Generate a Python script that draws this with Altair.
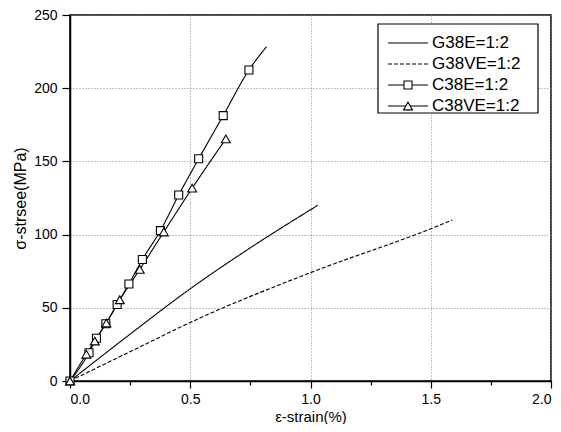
import altair as alt
import pandas as pd

# ---------------- data ----------------
series_names = ["G38E=1:2", "G38VE=1:2", "C38E=1:2", "C38VE=1:2"]

g38e_x = [0, 0.25, 0.5, 0.75, 1.03]
g38e_y = [0, 32, 63, 91, 120]

g38ve_x = [0, 0.25, 0.54, 1.0, 1.5, 1.59]
g38ve_y = [0, 20, 43, 74, 104, 110]

c38e_x = [0, 0.079, 0.11, 0.149, 0.196, 0.245, 0.301, 0.376, 0.452, 0.535, 0.637, 0.744, 0.817]
c38e_y = [0, 19.3, 29.2, 39.1, 52.3, 66.3, 83, 102.7, 127, 151.8, 181.3, 212.4, 228.3]
c38e_marker_count = 12  # last line point carries no marker

c38ve_x = [0, 0.068, 0.103, 0.151, 0.207, 0.29, 0.39, 0.508, 0.648]
c38ve_y = [0, 18.3, 27.3, 39.6, 55.5, 76.2, 101.8, 131.7, 165.4]

x_ticks = [0, 0.25, 0.5, 0.75, 1.0, 1.25, 1.5, 1.75, 2.0]
y_ticks = [0, 25, 50, 75, 100, 125, 150, 175, 200, 225, 250]

x_title = "ε-strain(%)"
y_title = "σ-strsee(MPa)"

# ---------------- tables ----------------
rows = []
for name, xs, ys in [
    (series_names[0], g38e_x, g38e_y),
    (series_names[1], g38ve_x, g38ve_y),
    (series_names[2], c38e_x, c38e_y),
    (series_names[3], c38ve_x, c38ve_y),
]:
    for i, (a, b) in enumerate(zip(xs, ys)):
        rows.append({"series": name, "x": a, "y": b, "order": i})
lines_df = pd.DataFrame(rows)

mrows = []
for a, b in zip(c38e_x[:c38e_marker_count], c38e_y[:c38e_marker_count]):
    mrows.append({"series": series_names[2], "x": a, "y": b})
for a, b in zip(c38ve_x, c38ve_y):
    mrows.append({"series": series_names[3], "x": a, "y": b})
marks_df = pd.DataFrame(mrows)

FONT = "Liberation Sans"
W, H = 481, 366

xscale = alt.Scale(domain=[0, 2.0], nice=False, zero=False)
yscale = alt.Scale(domain=[0, 250], nice=False, zero=False)

minor_x = "datum.value % 0.5 != 0"
minor_y = "datum.value % 50 != 0"

xaxis = alt.Axis(
    values=x_ticks, title=x_title,
    labelExpr="datum.value % 0.5 == 0 ? format(datum.value, '.1f') : ''",
    tickSize={"condition": {"test": minor_x, "value": 4}, "value": 7},
    gridOpacity={"condition": {"test": minor_x, "value": 0}, "value": 1},
    labelFontSize=14, titleFontSize=15, titlePadding=3, labelPadding=4,
)
yaxis = alt.Axis(
    values=y_ticks, title=y_title,
    labelExpr="datum.value % 50 == 0 ? format(datum.value, 'd') : ''",
    tickSize={"condition": {"test": minor_y, "value": 4}, "value": 8},
    gridOpacity={"condition": {"test": minor_y, "value": 0}, "value": 1},
    labelFontSize=14, titleFontSize=16, titlePadding=5, labelPadding=5,
)

dash_scale = alt.Scale(domain=series_names, range=[[1, 0], [4, 2], [1, 0], [1, 0]])

lines = alt.Chart(lines_df).mark_line(color="black", strokeWidth=1.1, interpolate="monotone").encode(
    x=alt.X("x:Q", scale=xscale, axis=xaxis),
    y=alt.Y("y:Q", scale=yscale, axis=yaxis),
    strokeDash=alt.StrokeDash("series:N", scale=dash_scale, legend=None),
    detail="series:N",
    order="order:Q",
)

shape_scale = alt.Scale(domain=series_names[2:], range=["square", "triangle-up"])
size_scale = alt.Scale(domain=series_names[2:], range=[64, 80])
points = alt.Chart(marks_df).mark_point(
    filled=True, fill="white", stroke="black", strokeWidth=1.1, opacity=1
).encode(
    x=alt.X("x:Q", scale=xscale),
    y=alt.Y("y:Q", scale=yscale),
    shape=alt.Shape("series:N", scale=shape_scale, legend=None),
    size=alt.Size("series:N", scale=size_scale, legend=None),
)

# ---------------- manual legend (plot-pixel coordinates) ----------------
one = pd.DataFrame({"k": [0]})
LX0, LX1, LY0, LY1 = 308, 468, 9, 98
SEG0, SEG1, TXT = 318, 358, 362
ROWY = [28, 49, 70, 91]

legend_layers = [
    alt.Chart(one).mark_rect(fill="white", stroke="black", strokeWidth=1.2).encode(
        x=alt.value(LX0), x2=alt.value(LX1), y=alt.value(LY0), y2=alt.value(LY1)
    )
]
dashes = [[1, 0], [4, 2], [1, 0], [1, 0]]
for i, name in enumerate(series_names):
    legend_layers.append(
        alt.Chart(one).mark_rule(color="black", strokeWidth=1.1, strokeDash=dashes[i]).encode(
            x=alt.value(SEG0), x2=alt.value(SEG1), y=alt.value(ROWY[i])
        )
    )
    legend_layers.append(
        alt.Chart(one).mark_text(align="left", baseline="middle", font=FONT, fontSize=17, color="black").encode(
            x=alt.value(TXT), y=alt.value(ROWY[i]), text=alt.value(name)
        )
    )
for i, shp, sz in [(2, "square", 64), (3, "triangle-up", 80)]:
    legend_layers.append(
        alt.Chart(one).mark_point(filled=True, fill="white", stroke="black", strokeWidth=1.1, opacity=1, shape=shp, size=sz).encode(
            x=alt.value((SEG0 + SEG1) / 2), y=alt.value(ROWY[i])
        )
    )

chart = alt.layer(lines, points, *legend_layers).properties(
    width=W, height=H,
    autosize=alt.AutoSizeParams(type="none"),
    padding={"left": 62, "top": 7, "right": 2, "bottom": 43},
).configure_view(
    stroke="black", strokeWidth=1.5
).configure_axis(
    labelFont=FONT, titleFont=FONT, labelColor="black", titleColor="black",
    titleFontWeight="normal", domainColor="black", domainWidth=1.5,
    tickColor="black", tickWidth=1.2,
    gridColor="#888888", gridDash=[1, 2], gridWidth=1,
)

chart.save("out.html", embed_options={"renderer": "svg", "actions": False})
